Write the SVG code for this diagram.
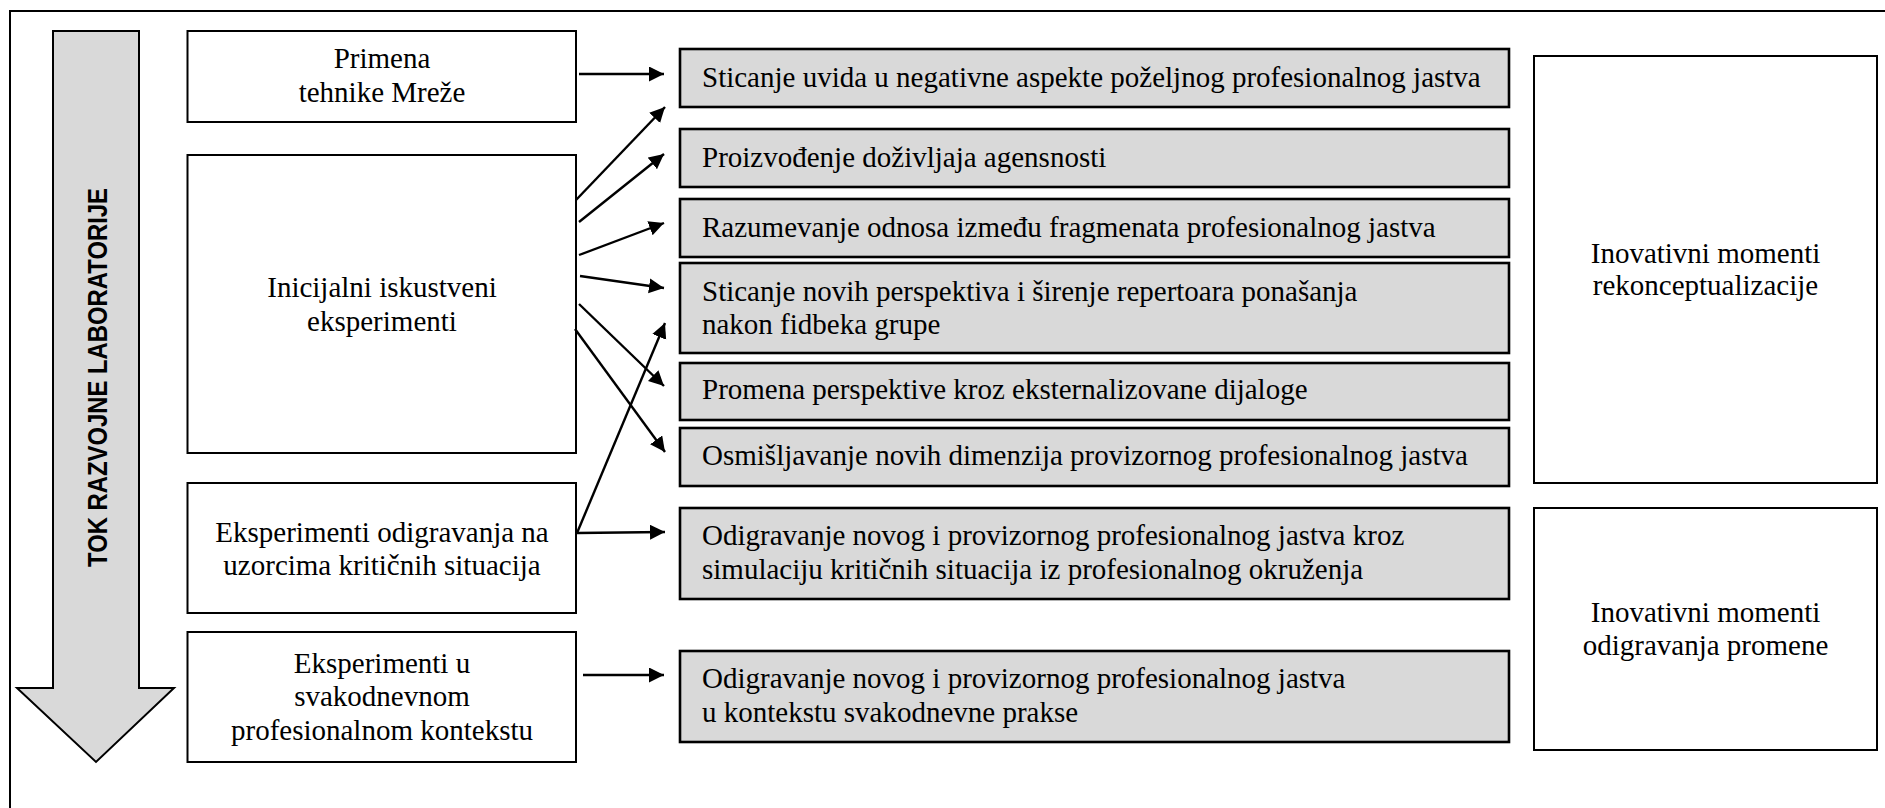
<svg xmlns="http://www.w3.org/2000/svg" width="1885" height="808" viewBox="0 0 1885 808">
  <style>
    .frame { fill: none; stroke: #000; stroke-width: 2; }
    .box { fill: #fff; stroke: #000; stroke-width: 2; }
    .gbox { fill: #d9d9d9; stroke: #000; stroke-width: 2.6; }
    .flow { fill: #d9d9d9; stroke: #000; stroke-width: 2; stroke-linejoin: miter; }
    text.t { font-family: 'Liberation Serif', 'Times New Roman', Tinos, 'DejaVu Serif', serif; font-size: 29px; fill: #000; }
    text.c { text-anchor: middle; }
    text.v { font-family: 'Liberation Sans', Arial, sans-serif; font-weight: bold; font-size: 27px; fill: #000; text-anchor: middle; }
    .conn { stroke: #000; stroke-width: 2.4; fill: none; marker-end: url(#head); }
  </style>
  <defs>
    <marker id="head" markerUnits="userSpaceOnUse" markerWidth="16" markerHeight="16" refX="15" refY="7.5" orient="auto">
      <path d="M0,0 L15,7.5 L0,15 z" fill="#000"/>
    </marker>
  </defs>

  <rect width="1885" height="808" fill="#fff"/>
  <!-- outer frame (right and bottom edges run off the page) -->
  <rect class="frame" x="10" y="11" width="1900" height="830"/>

  <!-- process direction arrow -->
  <g id="flow-arrow">
    <polygon class="flow" points="53,31 139,31 139,688 174,688 96,762 17,688 53,688"/>
    <text class="v" font-family="Liberation Sans" font-weight="bold" transform="translate(106.5,377.5) rotate(-90)" textLength="379" lengthAdjust="spacingAndGlyphs">TOK RAZVOJNE LABORATORIJE</text>
  </g>

  <g font-family="Liberation Serif">
  <!-- left column: techniques -->
  <g id="n-mreze">
    <rect class="box" x="187.5" y="31" width="388.5" height="91"/>
    <text class="t c" x="382" y="68">Primena</text>
    <text class="t c" x="382" y="102">tehnike Mreže</text>
  </g>
  <g id="n-inicijalni">
    <rect class="box" x="187.5" y="155" width="388.5" height="298"/>
    <text class="t c" x="382" y="297">Inicijalni iskustveni</text>
    <text class="t c" x="382" y="331">eksperimenti</text>
  </g>
  <g id="n-odigravanje">
    <rect class="box" x="187.5" y="483" width="388.5" height="130"/>
    <text class="t c" x="382" y="542">Eksperimenti odigravanja na</text>
    <text class="t c" x="382" y="575">uzorcima kritičnih situacija</text>
  </g>
  <g id="n-svakodnevni">
    <rect class="box" x="187.5" y="632" width="388.5" height="130"/>
    <text class="t c" x="382" y="673">Eksperimenti u</text>
    <text class="t c" x="382" y="706">svakodnevnom</text>
    <text class="t c" x="382" y="740">profesionalnom kontekstu</text>
  </g>

  <!-- middle column: outcomes -->
  <g id="o1">
    <rect class="gbox" x="680" y="49" width="829" height="58"/>
    <text class="t" x="702" y="87">Sticanje uvida u negativne aspekte poželjnog profesionalnog jastva</text>
  </g>
  <g id="o2">
    <rect class="gbox" x="680" y="129" width="829" height="58"/>
    <text class="t" x="702" y="167">Proizvođenje doživljaja agensnosti</text>
  </g>
  <g id="o3">
    <rect class="gbox" x="680" y="199" width="829" height="58"/>
    <text class="t" x="702" y="237">Razumevanje odnosa između fragmenata profesionalnog jastva</text>
  </g>
  <g id="o4">
    <rect class="gbox" x="680" y="263" width="829" height="90"/>
    <text class="t" x="702" y="301">Sticanje novih perspektiva i širenje repertoara ponašanja</text>
    <text class="t" x="702" y="334">nakon fidbeka grupe</text>
  </g>
  <g id="o5">
    <rect class="gbox" x="680" y="363" width="829" height="57"/>
    <text class="t" x="702" y="399">Promena perspektive kroz eksternalizovane dijaloge</text>
  </g>
  <g id="o6">
    <rect class="gbox" x="680" y="428" width="829" height="58"/>
    <text class="t" x="702" y="465">Osmišljavanje novih dimenzija provizornog profesionalnog jastva</text>
  </g>
  <g id="o7">
    <rect class="gbox" x="680" y="508" width="829" height="91"/>
    <text class="t" x="702" y="545">Odigravanje novog i provizornog profesionalnog jastva kroz</text>
    <text class="t" x="702" y="579">simulaciju kritičnih situacija iz profesionalnog okruženja</text>
  </g>
  <g id="o8">
    <rect class="gbox" x="680" y="651" width="829" height="91"/>
    <text class="t" x="702" y="688">Odigravanje novog i provizornog profesionalnog jastva</text>
    <text class="t" x="702" y="722">u kontekstu svakodnevne prakse</text>
  </g>

  <!-- right column: innovative moments -->
  <g id="im-rekonceptualizacija">
    <rect class="box" x="1534" y="56" width="343" height="427"/>
    <text class="t c" x="1705.5" y="263">Inovativni momenti</text>
    <text class="t c" x="1705.5" y="295">rekonceptualizacije</text>
  </g>
  <g id="im-odigravanje">
    <rect class="box" x="1534" y="508" width="343" height="242"/>
    <text class="t c" x="1705.5" y="622">Inovativni momenti</text>
    <text class="t c" x="1705.5" y="655">odigravanja promene</text>
  </g>
  </g>

  <!-- connectors -->
  <g id="connectors">
    <line class="conn" x1="579" y1="74" x2="664" y2="74"/>
    <line class="conn" x1="576" y1="200" x2="665" y2="107"/>
    <line class="conn" x1="579" y1="222" x2="664" y2="154"/>
    <line class="conn" x1="579" y1="255" x2="664" y2="223"/>
    <line class="conn" x1="580" y1="276" x2="664" y2="288"/>
    <line class="conn" x1="579" y1="304" x2="664" y2="386"/>
    <line class="conn" x1="575" y1="329" x2="665" y2="452"/>
    <line class="conn" x1="577" y1="533" x2="665" y2="323"/>
    <line class="conn" x1="577" y1="533" x2="665" y2="532"/>
    <line class="conn" x1="583" y1="675" x2="664" y2="675"/>
  </g>
</svg>
